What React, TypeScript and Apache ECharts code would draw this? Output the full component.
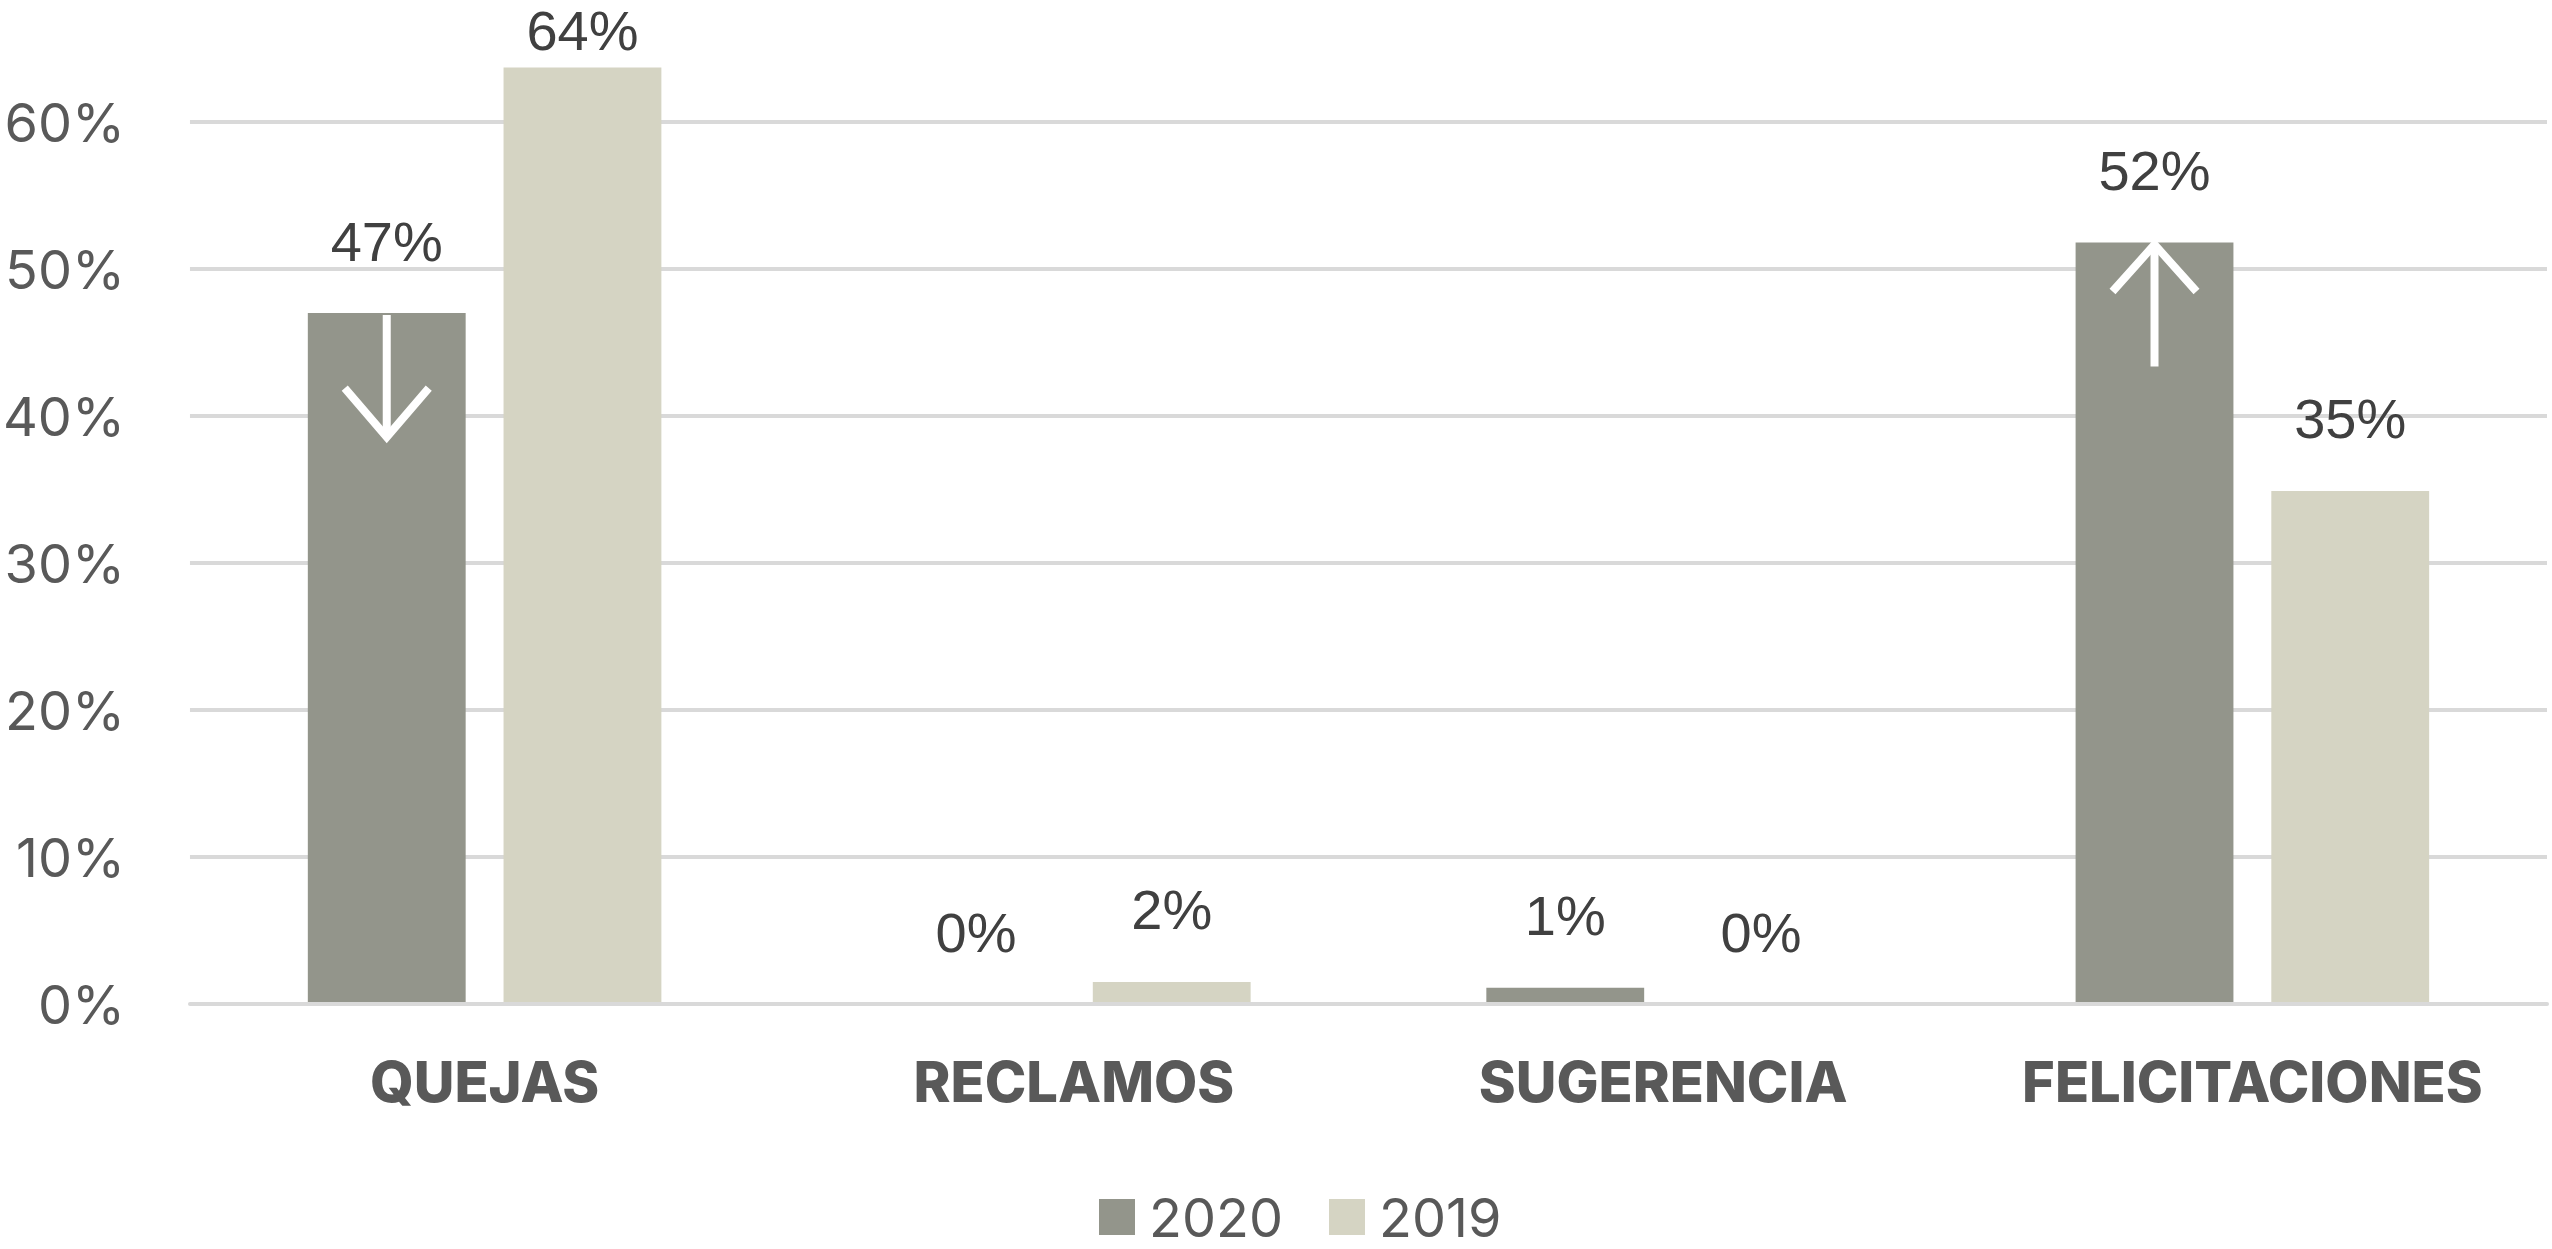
import React, { useEffect, useRef } from "react";
import * as echarts from "echarts";

const categories = ["QUEJAS", "RECLAMOS", "SUGERENCIA", "FELICITACIONES"];
const values2020 = [47, 0, 1.1, 51.8];
const values2019 = [63.7, 1.5, 0, 34.9];
const seriesNames = ["2020", "2019"];
const yMin = 0;
const yMax = 60;
const yInterval = 10;
// arrows drawn on 2020 bars: [category index, direction (-1 down, 1 up)]
const arrowCats = [0, 3];
const arrowDirs = [-1, 1];

const COLOR_2020 = "#93958b";
const COLOR_2019 = "#d5d4c3";
const BAR_CAT_GAP = 0.4;
const BAR_GAP = 0.24;

export default function App() {
  const ref = useRef<HTMLDivElement>(null);
  useEffect(() => {
    if (!ref.current) return;
    const chart = echarts.init(ref.current, null, { renderer: "svg" });
    const arrowData = arrowCats.map((c, i) => [c, values2020[c], arrowDirs[i]]);
    const labelCfg = {
      show: true,
      position: "top",
      distance: 44,
      color: "#404040",
      fontFamily: "Liberation Sans",
      fontSize: 56,
      formatter: (p: any) => Math.round(p.value) + "%",
    };
    const keepInside = (params: any) => {
      const r = params.labelRect;
      return r.y < 2 ? { dy: 2 - r.y } : {};
    };
    chart.setOption({
      animation: false,
      backgroundColor: "#ffffff",
      grid: { left: 187, right: 5, top: 122, bottom: 1249 - 1004 },
      legend: {
        data: seriesNames,
        left: 1099,
        top: 1189,
        padding: 0,
        icon: "rect",
        itemWidth: 36,
        itemHeight: 36,
        itemGap: 46,
        textStyle: {
          color: "#595959",
          fontFamily: "Inter",
          fontSize: 54,
          lineHeight: 56,
          padding: [0, 0, 0, 9],
        },
      },
      xAxis: {
        type: "category",
        data: categories,
        z: 5,
        axisLine: { show: true, lineStyle: { color: "#d9d9d9", width: 4 } },
        axisTick: { show: false },
        axisLabel: {
          interval: 0,
          margin: 50,
          color: "#595959",
          fontFamily: "Inter",
          fontWeight: 800,
          fontSize: 56,
        },
      },
      yAxis: {
        type: "value",
        min: yMin,
        max: yMax,
        interval: yInterval,
        axisLine: { show: false },
        axisTick: { show: false },
        splitLine: { lineStyle: { color: "#d9d9d9", width: 4 } },
        axisLabel: {
          margin: 65,
          color: "#595959",
          fontFamily: "Inter",
          fontSize: 54,
          formatter: "{value}%",
        },
      },
      series: [
        {
          name: seriesNames[0],
          type: "bar",
          data: values2020,
          itemStyle: { color: COLOR_2020 },
          barGap: BAR_GAP * 100 + "%",
          barCategoryGap: BAR_CAT_GAP * 100 + "%",
          clip: false,
          label: labelCfg,
          labelLayout: keepInside,
        },
        {
          name: seriesNames[1],
          type: "bar",
          data: values2019,
          itemStyle: { color: COLOR_2019 },
          barGap: BAR_GAP * 100 + "%",
          barCategoryGap: BAR_CAT_GAP * 100 + "%",
          clip: false,
          label: labelCfg,
          labelLayout: keepInside,
        },
        {
          name: "arrows",
          type: "custom",
          z: 10,
          silent: true,
          encode: { x: 0, y: 1 },
          data: arrowData,
          renderItem: (params: any, api: any) => {
            const ci = api.value(0);
            const v = api.value(1);
            const dir = api.value(2);
            const top = api.coord([ci, v]);
            const band = api.size([1, 0])[0];
            const bw = (band * (1 - BAR_CAT_GAP)) / (2 + BAR_GAP);
            const cx = top[0] - (bw + bw * BAR_GAP) / 2;
            const L = 124;
            const H = 49;
            const W = 42;
            const style = { stroke: "#ffffff", lineWidth: 8, fill: null };
            let pts: number[][];
            if (dir < 0) {
              pts = [
                [cx - W, top[1] + L - H],
                [cx, top[1] + L],
                [cx + W, top[1] + L - H],
              ];
            } else {
              pts = [
                [cx - W, top[1] + H],
                [cx, top[1] + 2],
                [cx + W, top[1] + H],
              ];
            }
            return {
              type: "group",
              children: [
                {
                  type: "line",
                  shape: { x1: cx, y1: top[1] + 2, x2: cx, y2: top[1] + L },
                  style,
                },
                { type: "polyline", shape: { points: pts }, style },
              ],
            };
          },
        },
      ],
    });
    return () => chart.dispose();
  }, []);
  return (
    <div
      ref={ref}
      style={{ position: "fixed", left: 0, top: 0, width: 2552, height: 1249, background: "#fff" }}
    />
  );
}
